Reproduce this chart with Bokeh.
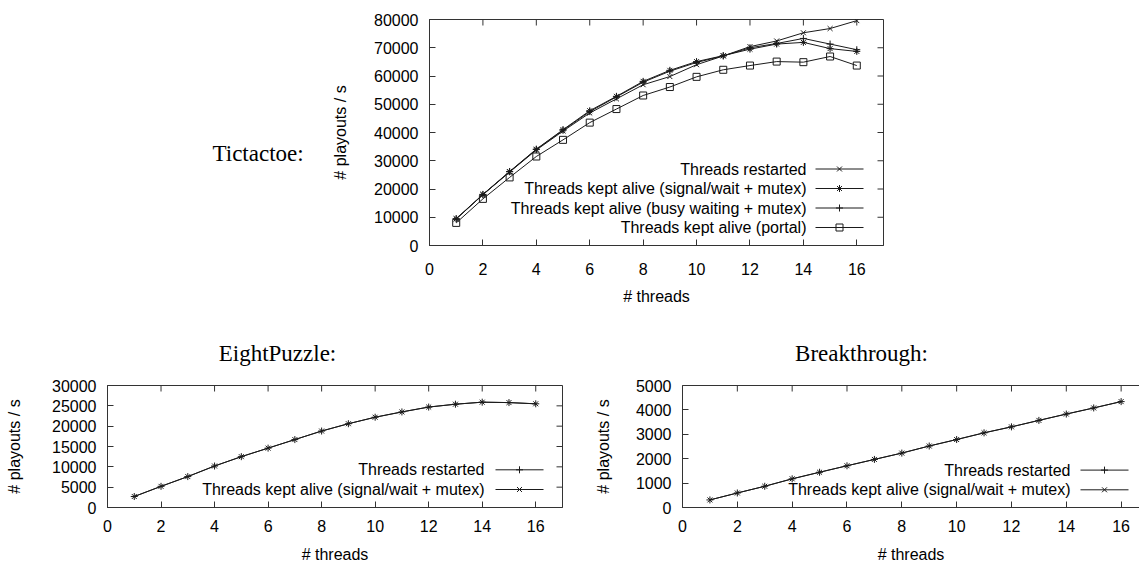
from bokeh.plotting import figure
from bokeh.layouts import column, row
from bokeh.models import LinearAxis, FixedTicker, Range1d, NumeralTickFormatter
from bokeh.core.properties import value
from bokeh.embed import file_html
from bokeh.resources import INLINE

# ---------------- data ----------------
threads = list(range(1, 17))
x_ticks = [0, 2, 4, 6, 8, 10, 12, 14, 16]

ttt_restarted = [9400, 18000, 26000, 33800, 40500, 46900, 51900, 56900,
                 59800, 64000, 67100, 70400, 72400, 75300, 76800, 79600]
ttt_signal = [9500, 18100, 26200, 34100, 41000, 47700, 52800, 58100,
              62000, 65100, 67200, 69500, 71300, 71900, 69700, 68700]
ttt_busy = [9400, 18000, 26100, 34000, 40800, 47400, 52600, 57800,
            61700, 64800, 67100, 70000, 71500, 73300, 71300, 69300]
ttt_portal = [8000, 16500, 24100, 31500, 37400, 43500, 48300, 53100,
              56100, 59700, 62200, 63700, 65100, 64900, 66900, 63700]

ep_restarted = [2700, 5200, 7600, 10200, 12500, 14600, 16700, 18800,
                20600, 22200, 23500, 24700, 25400, 25900, 25800, 25500]
ep_signal = [2700, 5200, 7600, 10200, 12500, 14600, 16700, 18800,
             20600, 22200, 23500, 24700, 25400, 25900, 25800, 25500]

bt_restarted = [310, 595, 870, 1175, 1445, 1710, 1970, 2230,
                2520, 2785, 3060, 3305, 3570, 3830, 4080, 4340]
bt_signal = [310, 595, 870, 1175, 1445, 1710, 1970, 2230,
             2520, 2785, 3060, 3305, 3570, 3830, 4080, 4340]

ttt_labels = ["Threads restarted",
              "Threads kept alive (signal/wait + mutex)",
              "Threads kept alive (busy waiting + mutex)",
              "Threads kept alive (portal)"]
small_labels = ["Threads restarted",
                "Threads kept alive (signal/wait + mutex)"]

ttt_y_ticks = [0, 10000, 20000, 30000, 40000, 50000, 60000, 70000, 80000]
ep_y_ticks = [0, 5000, 10000, 15000, 20000, 25000, 30000]
bt_y_ticks = [0, 1000, 2000, 3000, 4000, 5000]

titles = ["Tictactoe:", "EightPuzzle:", "Breakthrough:"]
x_label = "# threads"
y_label = "# playouts / s"

# ---------------- style ----------------
SANS = "Liberation Sans"
SERIF = "Liberation Serif"
INK = "#1a1a1a"
BORDER = "#333333"
FS = "16px"
TICK = 6


def style_axis(ax, ticks, standoff, label, label_standoff):
    ax.ticker = FixedTicker(ticks=ticks)
    ax.formatter = NumeralTickFormatter(format="0")
    ax.major_tick_in = TICK
    ax.major_tick_out = 0
    ax.minor_tick_line_color = None
    ax.axis_line_color = BORDER
    ax.major_tick_line_color = BORDER
    ax.major_label_text_font = SANS
    ax.major_label_text_color = "#000000"
    ax.major_label_text_font_size = FS
    ax.major_label_standoff = standoff
    ax.axis_label = label
    ax.axis_label_text_font = SANS
    ax.axis_label_text_font_size = FS
    ax.axis_label_text_font_style = "normal"
    ax.axis_label_text_color = "#000000"
    ax.axis_label_standoff = label_standoff


def make_fig(width, height, left, right, top, bottom, x_end, y_end, y_ticks,
             xs, ys, mirror_right=True):
    p = figure(width=width, height=height,
               x_range=Range1d(0, x_end), y_range=Range1d(0, y_end),
               output_backend="svg", toolbar_location=None,
               min_border_left=left, min_border_right=right,
               min_border_top=top, min_border_bottom=bottom)
    p.grid.grid_line_color = None
    p.background_fill_color = "white"
    p.border_fill_color = "white"
    style_axis(p.xaxis[0], x_ticks, xs[0], x_label, xs[1])
    style_axis(p.yaxis[0], y_ticks, ys[0], y_label, ys[1])
    fw = width - left - right
    fh = height - top - bottom
    dx = TICK * x_end / fw
    dy = TICK * y_end / fh
    # mirrored inward ticks on the top edge
    p.segment(x0=x_ticks, y0=[y_end] * len(x_ticks), x1=x_ticks,
              y1=[y_end - dy] * len(x_ticks), line_color=BORDER, line_width=1)
    if mirror_right:
        p.outline_line_color = BORDER
        p.segment(x0=[x_end] * len(y_ticks), y0=y_ticks,
                  x1=[x_end - dx] * len(y_ticks), y1=y_ticks,
                  line_color=BORDER, line_width=1)
    else:
        p.outline_line_color = None
        top_ax = LinearAxis(ticker=FixedTicker(ticks=[]))
        top_ax.axis_line_color = BORDER
        top_ax.minor_tick_line_color = None
        top_ax.major_tick_line_color = None
        p.add_layout(top_ax, "above")
    return p, fw, fh


def add_series(p, ys, marker):
    p.line(threads, ys, line_color=INK, line_width=1)
    p.scatter(threads, ys, marker=marker, size=7, line_color=INK,
              fill_color=None, line_width=1)


def add_key(p, fw, fh, x_end, y_end, labels, markers, line_px, text_px, rows_px):
    sx = x_end / fw
    sy = y_end / fh
    ys = [r * sy for r in rows_px]
    n = len(labels)
    p.segment(x0=[line_px[0] * sx] * n, y0=ys, x1=[line_px[1] * sx] * n, y1=ys,
              line_color=INK, line_width=1)
    for mk, y in zip(markers, ys):
        p.scatter(x=[(line_px[0] + line_px[1]) / 2 * sx], y=[y], marker=mk,
                  size=7, line_color=INK, fill_color=None, line_width=1)
    p.text(x=[text_px * sx] * n, y=ys, text=labels, text_align="right",
           text_baseline="middle", text_font=value(SANS),
           text_font_size=value(FS), text_color="#000000")


def text_fig(width, height, top, bottom, xs, ys, texts, align):
    fh = height - top - bottom
    f = figure(width=width, height=height, x_range=Range1d(0, width),
               y_range=Range1d(0, fh), output_backend="svg",
               toolbar_location=None, x_axis_location=None,
               y_axis_location=None, min_border=0,
               min_border_left=0, min_border_right=0,
               min_border_top=top, min_border_bottom=bottom)
    f.outline_line_color = None
    f.grid.visible = False
    f.text(x=xs, y=ys, text=texts, text_align=align,
           text_baseline="middle", text_font=value(SERIF),
           text_font_size=value("23px"), text_color="#000000")
    return f


# ---------------- Tictactoe ----------------
t_left = text_fig(328, 320, 19, 75, [212], [92], [titles[0]], "left")
p1, fw1, fh1 = make_fig(572, 320, 101, 17, 19, 75, 17, 80000, ttt_y_ticks,
                        xs=(17, 10), ys=(11, 22))
add_series(p1, ttt_restarted, "x")
add_series(p1, ttt_signal, "asterisk")
add_series(p1, ttt_busy, "cross")
add_series(p1, ttt_portal, "square")
add_key(p1, fw1, fh1, 17, 80000, ttt_labels, ["x", "asterisk", "cross", "square"],
        (386, 434), 377, [76.5, 57, 37.5, 18])

# ---------------- titles of the lower row ----------------
t_mid = text_fig(1139, 52, 0, 0, [277, 861], [19, 19], titles[1:], "center")

# ---------------- EightPuzzle ----------------
p2, fw2, fh2 = make_fig(580, 193, 107, 18, 13, 58, 17, 30000, ep_y_ticks,
                        xs=(12, 11), ys=(11, 26))
add_series(p2, ep_restarted, "cross")
add_series(p2, ep_signal, "x")
add_key(p2, fw2, fh2, 17, 30000, small_labels, ["cross", "x"],
        (388, 436), 377, [37.7, 18])

# ---------------- Breakthrough ----------------
p3, fw3, fh3 = make_fig(559, 193, 102, 0, 13, 58, 16.67, 5000, bt_y_ticks,
                        xs=(12, 11), ys=(11, 21), mirror_right=False)
add_series(p3, bt_restarted, "cross")
add_series(p3, bt_signal, "x")
add_key(p3, fw3, fh3, 16.67, 5000, small_labels, ["cross", "x"],
        (398, 446), 388, [37.4, 17.7])

layout = column(row(t_left, p1), t_mid, row(p2, p3))
open("out.html", "w").write(file_html(layout, INLINE))
